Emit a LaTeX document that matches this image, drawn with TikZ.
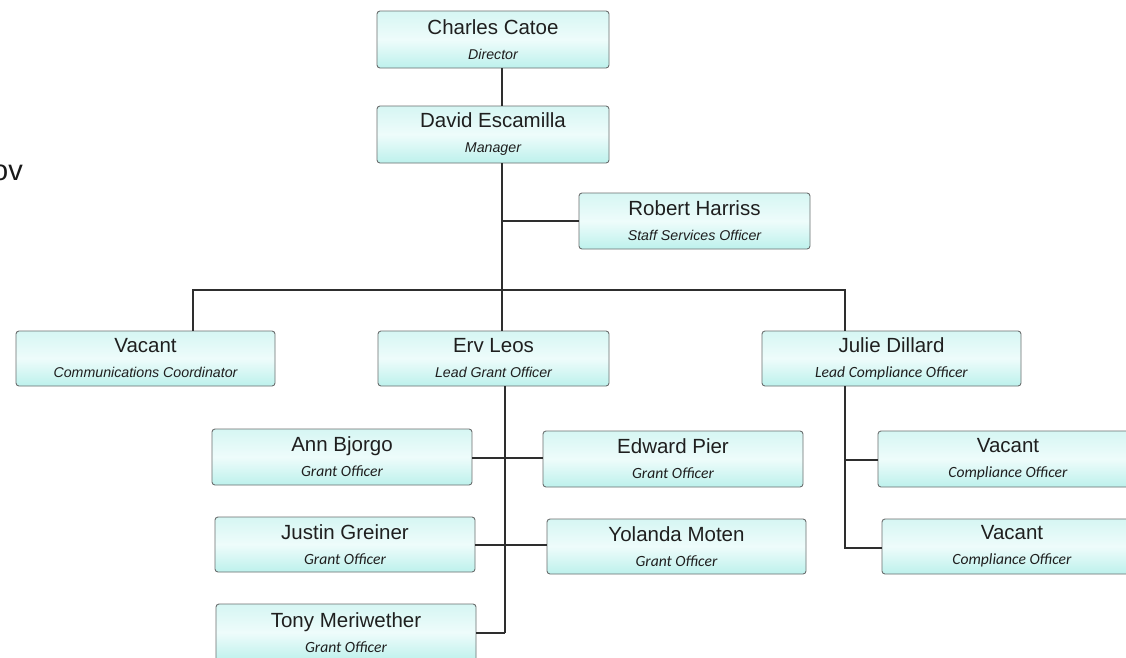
\documentclass[tikz,border=0pt]{standalone}
\usepackage{fontspec}
\setmainfont{Liberation Sans}
\newfontfamily\calfont{Carlito}
\newcommand\nmfont{\fontsize{20.5}{25}\selectfont}
\newcommand\arit{\fontsize{14.2}{25}\selectfont\itshape}
\newcommand\calit{\fontsize{15.6}{25}\selectfont\calfont\itshape}
\definecolor{boxline}{HTML}{6A6E6E}
\definecolor{boxtop}{HTML}{D6F6F3}
\definecolor{boxmid}{HTML}{EEFCFB}
\definecolor{boxbot}{HTML}{BDF1EC}
\definecolor{wire}{HTML}{2E2E2E}
\tikzset{
  orgbox/.style={draw=boxline, line width=0.9pt, rounded corners=3pt,
    top color=boxtop, bottom color=boxbot, middle color=boxmid,
    align=center, inner sep=0pt, font=\nmfont, text=black!88},
  wireline/.style={draw=wire, line width=1.3pt}
}
% name, x1, y1, x2, y2, content
\newcommand\obox[6]{%
  \node[orgbox, minimum width={#4pt-#2pt}, minimum height={#5pt-#3pt}]
    (#1) at ({(#2+#4)/2},{(#3+#5)/2+1}) {#6};}
\begin{document}
\begin{tikzpicture}[x=1pt,y=-1pt]
\useasboundingbox (0,0) rectangle (1126,657);
\fill[white] (0,0) rectangle (1126,657);

\node[anchor=base east, inner sep=0pt, font=\fontsize{29}{30}\selectfont, text=black!90] (ov) at (23,180) {ov};

\obox{cc}{377}{10}{609}{67}{Charles Catoe\\\arit Director}
\obox{de}{377}{105}{609}{162}{David Escamilla\\\arit Manager}
\obox{rh}{579}{192}{810}{248}{Robert Harriss\\\arit Staff Services Officer}
\obox{vc}{16}{330}{275}{385}{Vacant\\\arit Communications Coordinator}
\obox{el}{378}{330}{609}{385}{Erv Leos\\\arit Lead Grant Officer}
\obox{jd}{762}{330}{1021}{385}{Julie Dillard\\\calit Lead Compliance Officer}
\obox{ab}{212}{428}{472}{484}{Ann Bjorgo\\\calit Grant Officer}
\obox{ep}{543}{430}{803}{486}{Edward Pier\\\calit Grant Officer}
\obox{jg}{215}{516}{475}{571}{Justin Greiner\\\calit Grant Officer}
\obox{ym}{547}{518}{806}{573}{Yolanda Moten\\\calit Grant Officer}
\obox{tm}{216}{603}{476}{660}{Tony Meriwether\\\calit Grant Officer}
\obox{vc1}{878}{430}{1138}{486}{Vacant\\\calit Compliance Officer}
\obox{vc2}{882}{518}{1142}{573}{Vacant\\\calit Compliance Officer}

\coordinate (trunk) at (502,0);
\coordinate (bus) at (0,290);
\coordinate (erx) at (505,0);
\coordinate (jdx) at (845,0);
\coordinate (tmend) at (505,633);
\coordinate (jdend) at (845,548);

% top chain
\draw[wireline] (cc.south -| trunk) -- (de.north -| trunk);
\draw[wireline] (de.south -| trunk) -- (el.north -| trunk);
\draw[wireline] (rh.west |- 0,221) -- (trunk |- 0,221);
% bus
\draw[wireline] (vc.north -| 193,0) -- (193,290) -- (jdx |- bus) -- (jd.north -| jdx);
% Erv's team
\draw[wireline] (el.south -| erx) -- (tmend);
\draw[wireline] (ab.east |- 0,458) -- (ep.west |- 0,458);
\draw[wireline] (jg.east |- 0,545) -- (ym.west |- 0,545);
\draw[wireline] (tm.east |- tmend) -- (tmend);
% Julie's team
\draw[wireline] (jd.south -| jdx) -- (jdend) -- (vc2.west |- jdend);
\draw[wireline] (jdx |- 0,460) -- (vc1.west |- 0,460);
\end{tikzpicture}
\end{document}
